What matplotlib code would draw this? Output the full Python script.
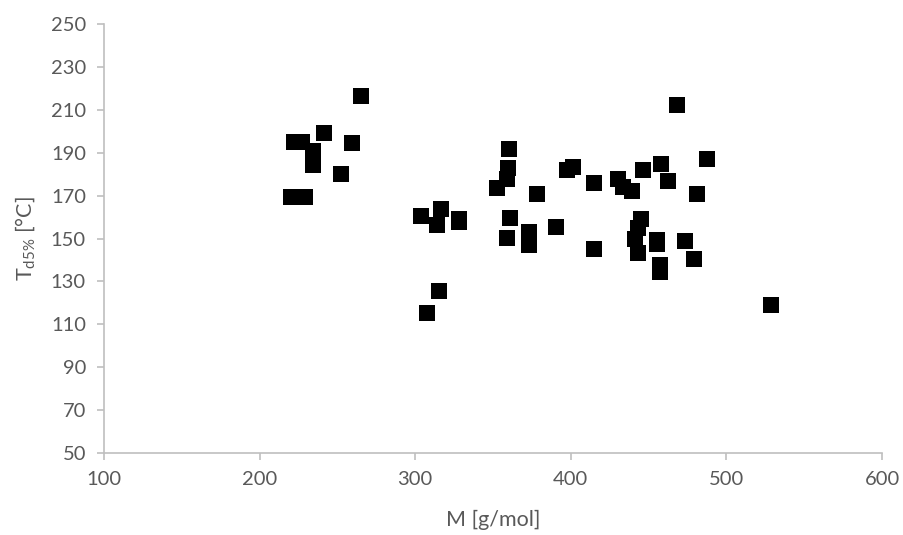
import numpy as np
import matplotlib.pyplot as plt

plt.rcParams['font.family'] = ['Lato', 'DejaVu Sans']
plt.rcParams['mathtext.default'] = 'regular'

# molar mass [g/mol]
mass = [265.0, 241.2, 221.9, 227.2, 234.5, 234.1, 259.4, 252.3, 220.2, 229.2,
        360.0, 359.9, 358.8, 352.4, 397.3, 401.1, 378.0, 303.5, 316.3, 314.2,
        328.3, 328.3, 360.9, 358.8, 372.9, 372.9, 390.8, 315.0, 307.3,
        468.3, 487.3, 458.2, 446.2, 415.1, 430.1, 433.3, 439.1, 462.2, 481.3,
        445.1, 442.9, 441.3, 443.4, 455.2, 455.2, 415.1, 473.4, 479.2,
        457.3, 457.3, 528.4]
# Td5% [degC]
td5 = [216.6, 199.0, 195.1, 194.8, 190.9, 184.1, 194.4, 180.2, 169.2, 169.3,
       191.7, 182.7, 177.6, 173.5, 181.9, 183.5, 170.6, 160.5, 163.8, 156.3,
       159.2, 157.8, 159.7, 150.2, 153.2, 146.8, 155.5, 125.5, 115.4,
       212.4, 187.1, 184.7, 181.9, 176.0, 177.6, 174.1, 172.1, 177.0, 170.7,
       159.2, 154.8, 149.9, 143.3, 149.5, 147.3, 145.2, 148.7, 140.5,
       137.6, 134.3, 118.9]

fig = plt.figure(figsize=(9.04, 5.35), dpi=100)
ax = fig.add_axes([0.115, 0.1533, 0.8607, 0.8017])

ax.scatter(mass, td5, marker='s', s=125, color='black', linewidths=0, zorder=3)

ax.set_xlim(100, 600)
ax.set_ylim(50, 250)
ax.set_xticks(np.arange(100, 601, 100))
ax.set_yticks(np.arange(50, 251, 20))

gray = '#bfbfbf'
for s in ['top', 'right']:
    ax.spines[s].set_visible(False)
for s in ['left', 'bottom']:
    ax.spines[s].set_color(gray)
    ax.spines[s].set_linewidth(1.2)
ax.tick_params(axis='both', colors=gray, length=5, width=1.2, direction='out',
               labelcolor='#595959', labelsize=14.5, pad=8)

ax.set_xlabel('M [g/mol]', fontsize=15.5, color='#595959', labelpad=16)
ax.set_ylabel('T$_{d5\\%}$ [°C]', fontsize=15.5, color='#595959', labelpad=10)

plt.savefig('out.png', dpi=100)
